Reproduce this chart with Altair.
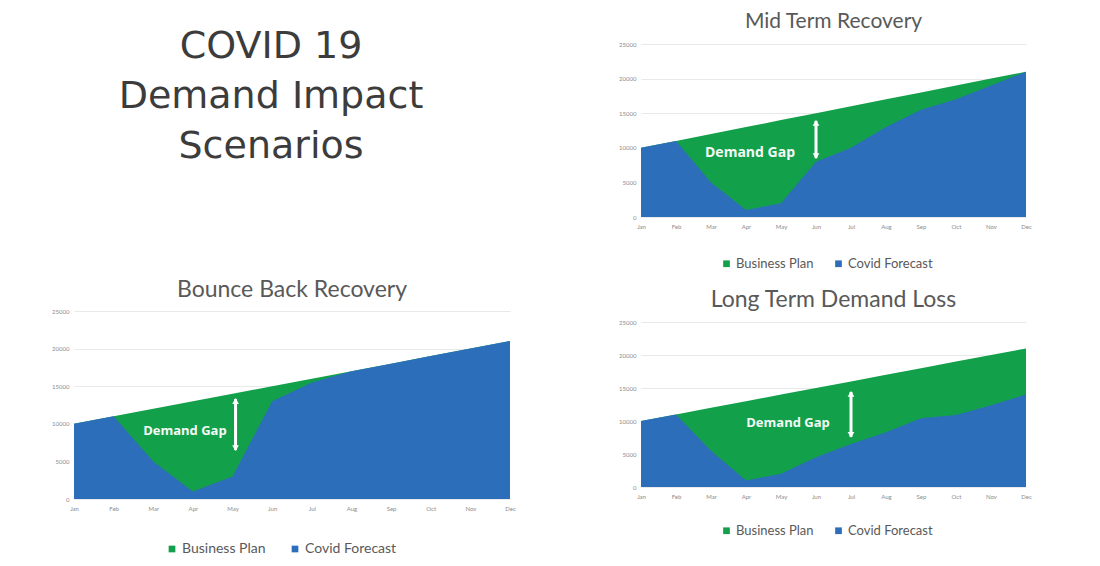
import altair as alt
import pandas as pd

months = ["Jan", "Feb", "Mar", "Apr", "May", "Jun", "Jul", "Aug", "Sep", "Oct", "Nov", "Dec"]
business_plan = [10000, 11000, 12000, 13000, 14000, 15000, 16000, 17000, 18000, 19000, 20000, 21000]
covid_mid = [10000, 11000, 5000, 1000, 2000, 8000, 10000, 13000, 15500, 17000, 19000, 21000]
covid_bounce = [10000, 11000, 5000, 1000, 3000, 13000, 15500, 17000, 18000, 19000, 20000, 21000]
covid_long = [10000, 11000, 5500, 1000, 2000, 4500, 6500, 8300, 10400, 10900, 12400, 14000]
series = ["Business Plan", "Covid Forecast"]
colors = ["#13a04b", "#2d6ebb"]
y_ticks = [0, 5000, 10000, 15000, 20000, 25000]
heading = ["COVID 19", "Demand Impact", "Scenarios"]

TXT = "#595959"


def panel(title, covid, w, h, title_size, title_offset, title_dy, gap_month, gap_value, gap_dx,
          gap_size, arrow_month, arrow_top, arrow_bottom, arrow_dx, legend_x, legend_y,
          legend_size, legend_pad, y_extent):
    df = pd.DataFrame({
        "Month": months * 2,
        "Value": business_plan + covid,
        "Series": [series[0]] * 12 + [series[1]] * 12,
    })
    x_axis = alt.Axis(title=None, labelAngle=0, labelFontSize=6, labelColor="#8c8c8c",
                      ticks=False, domain=False, grid=False, labelPadding=6, labelFont="Lato")
    y_axis = alt.Axis(title=None, values=y_ticks, format="d", labelOverlap=False,
                      labelFontSize=6, labelColor="#8c8c8c", tickCount=6,
                      ticks=False, domain=False, gridColor="#e9e9e9", gridWidth=1,
                      labelPadding=5, minExtent=y_extent, maxExtent=y_extent, labelFont="Lato")
    x_scale = alt.Scale(type="point", padding=0)
    y_scale = alt.Scale(domain=[0, 25000])

    def X():
        return alt.X("Month:O", sort=months, scale=x_scale, axis=x_axis)

    def Y(field):
        return alt.Y(field, stack=None, scale=y_scale, axis=y_axis)

    color = alt.Color("Series:N", scale=alt.Scale(domain=series, range=colors),
                      legend=alt.Legend(title=None, orient="none", legendX=legend_x, legendY=legend_y,
                                        direction="horizontal", symbolType="square", symbolSize=45,
                                        symbolStrokeWidth=0, labelFont="Lato",
                                        labelFontSize=legend_size, labelColor=TXT,
                                        columnPadding=legend_pad, labelOffset=3))
    base = alt.Chart(df)
    plan = base.transform_filter(alt.datum.Series == series[0]).mark_area(opacity=1).encode(
        x=X(), y=Y("Value:Q"), color=color)
    cov = base.transform_filter(alt.datum.Series == series[1]).mark_area(opacity=1).encode(
        x=X(), y=Y("Value:Q"), color=color)

    ann_text = pd.DataFrame({"Month": [gap_month], "Value": [gap_value], "label": ["Demand Gap"]})
    text = alt.Chart(ann_text).mark_text(color="#f4fbf6", font="Open Sans", fontWeight="bold",
                                         fontSize=gap_size, dx=gap_dx).encode(
        x=X(), y=Y("Value:Q"), text="label:N")

    arrow_df = pd.DataFrame({"Month": [arrow_month], "Value": [arrow_top], "bottom": [arrow_bottom]})
    shaft = alt.Chart(arrow_df).mark_rule(color="white", strokeWidth=3, xOffset=arrow_dx).encode(
        x=X(), y=Y("Value:Q"), y2="bottom:Q")
    head_top = alt.Chart(arrow_df).mark_point(shape="triangle-up", filled=True, color="white",
                                              opacity=1, size=45, yOffset=2, xOffset=arrow_dx).encode(
        x=X(), y=Y("Value:Q"))
    head_bot = alt.Chart(arrow_df).mark_point(shape="triangle-down", filled=True, color="white",
                                              opacity=1, size=45, yOffset=-2, xOffset=arrow_dx).encode(
        x=X(), y=Y("bottom:Q"))

    return alt.layer(plan, cov, text, shaft, head_top, head_bot).properties(
        width=w, height=h,
        title=alt.TitleParams(title, font="Lato", fontSize=title_size, fontWeight="normal",
                              color=TXT, anchor="middle", offset=title_offset, dy=title_dy),
    )


mid = panel("Mid Term Recovery", covid_mid, 385, 173, 21, 12, 3, "Apr", 9300, 4, 14,
            "Jun", 13900, 8500, 0, 79, 213, 13, 18, 25)
bounce = panel("Bounce Back Recovery", covid_bounce, 436, 188, 23, 6, 0, "Apr", 9000, -8, 13,
               "May", 13300, 6500, 3, 91, 231, 14, 22, 66)
long_term = panel("Long Term Demand Loss", covid_long, 385, 165, 23, 7, 0, "May", 9700, 7, 13,
                  "Jul", 14400, 7600, 0, 79, 202, 13, 18, 25)

head_df = pd.DataFrame({"line": heading})
head = alt.Chart(head_df).mark_text(font="DejaVu Sans", fontSize=38, color="#3c3c3c",
                                    baseline="middle", dx=-21).encode(
    y=alt.Y("line:O", sort=heading, scale=alt.Scale(type="point", padding=0.06), axis=None),
    text="line:N",
).properties(width=436, height=106)

left = alt.vconcat(head, bounce, spacing=113).resolve_scale(color="independent")
right = alt.vconcat(mid, long_term, spacing=18).resolve_scale(color="independent")

chart = alt.hconcat(left, right, spacing=100).resolve_scale(color="independent").properties(
    padding={"top": 3, "left": 0, "right": 0, "bottom": 0}).configure_view(stroke=None)

chart.save("out.html", embed_options={"renderer": "svg", "actions": False})
